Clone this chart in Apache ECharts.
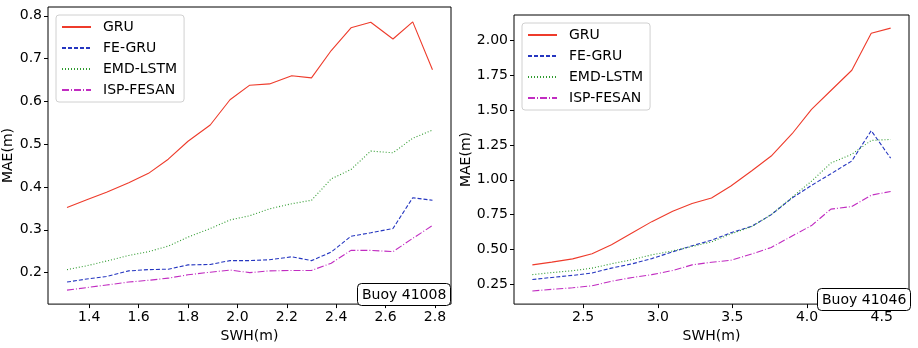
<!DOCTYPE html>
<html><head><meta charset="utf-8">
<script src="https://cdn.jsdelivr.net/npm/echarts@6/dist/echarts.min.js"></script>
<style>html,body{margin:0;padding:0;background:#fff}#c{width:918px;height:348px}</style>
</head><body><div id="c"></div>
<script>
const seriesNames = ['GRU','FE-GRU','EMD-LSTM','ISP-FESAN'];

// Left panel: Buoy 41008
const leftX = [1.31,1.39,1.47,1.56,1.64,1.72,1.80,1.89,1.97,2.05,2.13,2.22,2.30,2.38,2.46,2.54,2.63,2.71,2.79];
const leftGRU = [0.352,0.370,0.388,0.410,0.432,0.465,0.507,0.545,0.604,0.638,0.641,0.660,0.655,0.719,0.772,0.785,0.746,0.786,0.674];
const leftFEGRU = [0.178,0.185,0.191,0.204,0.207,0.208,0.218,0.219,0.228,0.228,0.230,0.237,0.228,0.248,0.285,0.293,0.303,0.375,0.369];
const leftEMD = [0.207,0.216,0.227,0.240,0.249,0.262,0.283,0.303,0.323,0.333,0.349,0.361,0.369,0.419,0.441,0.484,0.480,0.514,0.533];
const leftISP = [0.159,0.165,0.171,0.178,0.182,0.187,0.195,0.201,0.206,0.200,0.204,0.205,0.205,0.222,0.252,0.252,0.249,0.280,0.310];
const leftXTicks = [1.4,1.6,1.8,2.0,2.2,2.4,2.6,2.8];
const leftYTicks = [0.2,0.3,0.4,0.5,0.6,0.7,0.8];

// Right panel: Buoy 41046
const rightX = [2.16,2.29,2.43,2.56,2.69,2.83,2.96,3.10,3.23,3.36,3.49,3.63,3.76,3.90,4.03,4.16,4.30,4.43,4.56];
const rightGRU = [0.390,0.410,0.433,0.470,0.535,0.620,0.700,0.775,0.830,0.870,0.955,1.065,1.170,1.330,1.505,1.640,1.785,2.050,2.087];
const rightFEGRU = [0.285,0.300,0.315,0.332,0.367,0.398,0.435,0.484,0.527,0.567,0.620,0.667,0.750,0.870,0.960,1.043,1.135,1.352,1.155];
const rightEMD = [0.320,0.335,0.348,0.367,0.398,0.428,0.462,0.490,0.522,0.555,0.612,0.665,0.750,0.875,0.990,1.120,1.183,1.282,1.289];
const rightISP = [0.203,0.215,0.226,0.240,0.273,0.300,0.320,0.350,0.390,0.409,0.423,0.468,0.515,0.597,0.672,0.790,0.808,0.890,0.916];
const rightXTicks = [2.5,3.0,3.5,4.0,4.5];
const rightYTicks = [0.25,0.50,0.75,1.00,1.25,1.50,1.75,2.00];

const buoyLabels = ['Buoy 41008','Buoy 41046'];
const xName = 'SWH(m)', yName = 'MAE(m)';

const FONT = 'DejaVu Sans';
const colors = ['#ee3b2b','#2536c0','#2e9a2e','#c12cc1'];
const types = ['solid',[4,2],[1,2],[7,2,1,2]];

function pairs(xs, ys){ return xs.map((x,i)=>[x,ys[i]]); }
function mkSeries(idx, xs, lists){
  return lists.map((ys,k)=>({
    name: seriesNames[k], type:'line', xAxisIndex: idx, yAxisIndex: idx,
    data: pairs(xs, ys), symbol:'none', showSymbol:false, silent:true, animation:false,
    lineStyle:{color:colors[k], width:1.1, type:types[k]}, itemStyle:{color:colors[k]}
  }));
}
function xAx(idx, min, max, ticks, dec){
  return {type:'value', gridIndex:idx, min:min, max:max, name:xName, nameLocation:'middle', nameGap:17,
    nameTextStyle:{fontFamily:FONT,fontSize:14,color:'#000'},
    axisLine:{show:false}, splitLine:{show:false},
    axisTick:{show:true, inside:false, length:4, lineStyle:{color:'#000'}, customValues:ticks},
    axisLabel:{fontFamily:FONT,fontSize:14,color:'#000', margin:6, customValues:ticks, formatter:v=>Number(v).toFixed(dec)}};
}
function yAx(idx, min, max, ticks, dec, gap){
  return {type:'value', gridIndex:idx, min:min, max:max, name:yName, nameLocation:'middle', nameGap:gap, nameRotate:90,
    nameTextStyle:{fontFamily:FONT,fontSize:14,color:'#000'},
    axisLine:{show:false}, splitLine:{show:false},
    axisTick:{show:true, inside:false, length:4, lineStyle:{color:'#000'}, customValues:ticks},
    axisLabel:{fontFamily:FONT,fontSize:14,color:'#000', margin:6, customValues:ticks, formatter:v=>Number(v).toFixed(dec)}};
}
function legend(idx, left, top){
  return {show:true, orient:'vertical', left:left, top:top, data:seriesNames,
    itemWidth:29, itemHeight:14, itemGap:7, padding:[5,7,5,5],
    backgroundColor:'#fff', borderColor:'#d0d0d0', borderWidth:1, borderRadius:3,
    itemStyle:{color:'transparent', borderWidth:0, opacity:0},
    textStyle:{fontFamily:FONT,fontSize:14,color:'#000', padding:[0,0,0,7]},
    selectedMode:false};
}

const chart = echarts.init(document.getElementById('c'), null, {renderer:'canvas'});
chart.setOption({
  animation:false,
  backgroundColor:'#fff',
  grid:[
    {left:48, top:7, width:403, height:302, show:true, borderColor:'#000', borderWidth:1, backgroundColor:'transparent'},
    {left:514, top:15, width:395, height:294, show:true, borderColor:'#000', borderWidth:1, backgroundColor:'transparent'}
  ],
  xAxis:[ xAx(0, 1.233, 2.865, leftXTicks, 1), xAx(1, 2.037, 4.683, rightXTicks, 1) ],
  yAxis:[ yAx(0, 0.1264, 0.8207, leftYTicks, 1, 31), yAx(1, 0.109, 2.181, rightYTicks, 2, 39) ],
  legend:[ legend(0, 56, 15), legend(1, 522, 23) ],
  title:[
    {text:buoyLabels[0], left:357, top:283, padding:[5,4,4,5], backgroundColor:'#fff', borderColor:'#000', borderWidth:1, borderRadius:4,
     textStyle:{fontFamily:FONT,fontSize:14,fontWeight:'normal',color:'#000'}},
    {text:buoyLabels[1], left:817, top:288, padding:[5,4,4,5], backgroundColor:'#fff', borderColor:'#000', borderWidth:1, borderRadius:4,
     textStyle:{fontFamily:FONT,fontSize:14,fontWeight:'normal',color:'#000'}}
  ],
  series: [].concat(
    mkSeries(0, leftX, [leftGRU,leftFEGRU,leftEMD,leftISP]),
    mkSeries(1, rightX, [rightGRU,rightFEGRU,rightEMD,rightISP])
  )
});
</script></body></html>
